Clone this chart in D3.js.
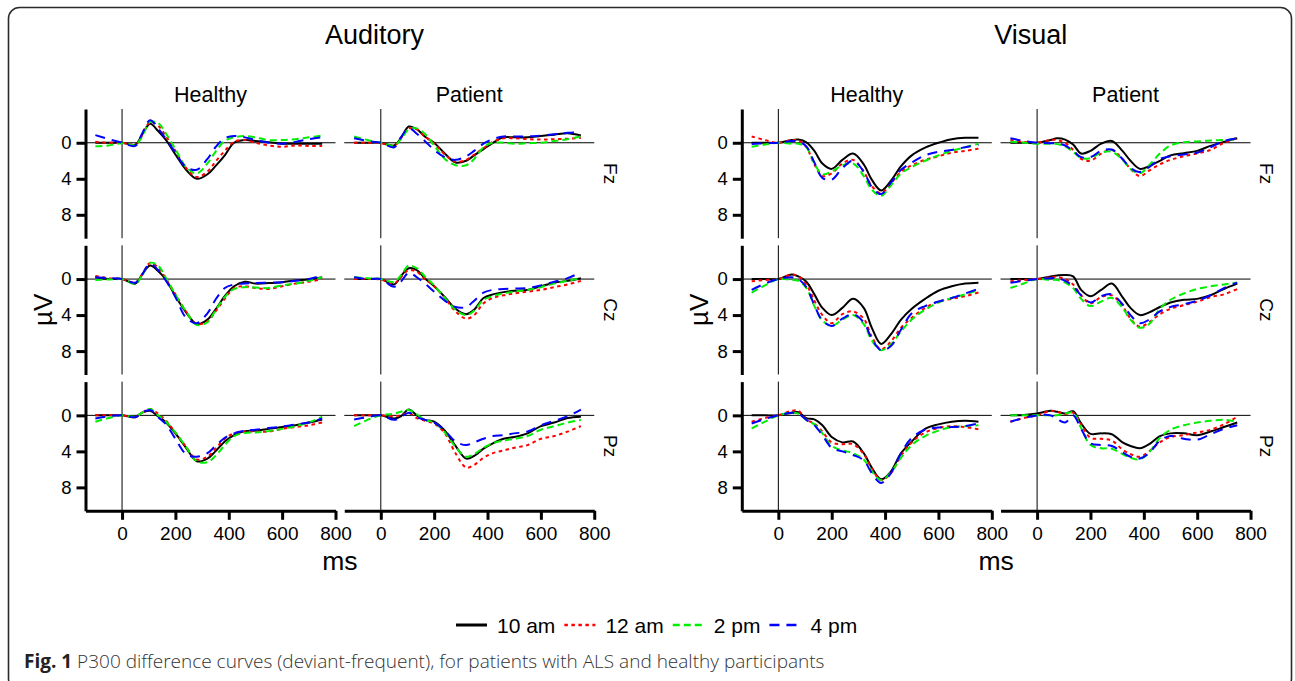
<!DOCTYPE html>
<html>
<head>
<meta charset="utf-8">
<script src="https://cdn.jsdelivr.net/npm/d3@7"></script>
<style>
  body { margin: 0; background: #fff; }
  svg { display: block; }
</style>
</head>
<body>
<svg id="chart" width="1295" height="681"></svg>
<script>

// time points (ms) shared by every curve
var timesMs = [-100, -50, 0, 50, 75, 105, 135, 165, 200, 240, 280, 320, 350, 385, 420, 460, 500, 550, 600, 650, 700, 750];

var seriesNames = ["10 am", "12 am", "2 pm", "4 pm"];
var modalities = ["Auditory", "Visual"];
var groups = ["Healthy", "Patient"];
var electrodes = ["Fz", "Cz", "Pz"];
var xTicks = [0, 200, 400, 600, 800];
var yTicks = [0, 4, 8];

// µV values, one row per series (10 am, 12 am, 2 pm, 4 pm)
var audHealthyFz = [
  [0, 0, 0, 0.2, -0.9, -2.1, -1.3, -0.3, 1.3, 3.0, 4.0, 3.5, 2.6, 1.4, 0.0, -0.3, -0.2, -0.05, 0.1, 0.1, 0.1, 0.1],
  [-0.1, 0, 0, 0.2, -0.8, -2.3, -1.9, -0.7, 0.9, 2.8, 3.8, 3.2, 2.1, 0.9, -0.1, -0.3, 0.0, 0.3, 0.45, 0.3, 0.35, 0.35],
  [0.4, 0.3, 0.05, 0.25, -0.7, -2.3, -2.2, -1.0, 0.7, 2.7, 3.4, 2.3, 1.0, -0.2, -0.6, -0.75, -0.6, -0.3, -0.3, -0.4, -0.6, -0.8],
  [-0.85, -0.4, 0, 0.35, -1.0, -2.5, -1.6, -0.4, 1.1, 2.7, 3.0, 1.8, 0.5, -0.5, -0.75, -0.6, -0.3, 0.0, 0.1, -0.1, -0.4, -0.6]
];
var audPatientFz = [
  [0, 0, 0, 0.3, -0.5, -1.8, -1.5, -0.7, 0.0, 1.2, 2.2, 2.0, 1.4, 0.7, 0.0, -0.6, -0.6, -0.6, -0.75, -0.9, -1.05, -0.8],
  [0, 0, 0.05, 0.3, -0.5, -1.6, -1.5, -0.7, 0.1, 1.3, 2.1, 1.9, 1.3, 0.6, -0.1, -0.5, -0.5, -0.4, -0.35, -0.4, -0.45, -0.55],
  [-0.7, -0.3, 0, 0.3, -0.4, -1.5, -1.6, -1.0, 0.3, 1.8, 2.5, 2.5, 1.8, 0.5, 0.0, 0.0, 0.1, 0.05, 0.0, -0.2, -0.4, -0.7],
  [-0.5, -0.2, 0, 0.5, -0.6, -1.6, -1.0, -0.2, 0.8, 1.6, 1.9, 1.5, 0.9, 0.1, -0.4, -0.7, -0.7, -0.7, -0.8, -0.95, -1.1, -1.2]
];
var audHealthyCz = [
  [-0.2, 0, 0, 0.5, -0.5, -1.5, -0.9, 0.1, 1.9, 3.7, 5.0, 4.5, 3.4, 1.9, 0.8, 0.3, 0.5, 0.45, 0.35, 0.15, 0.05, -0.2],
  [-0.35, -0.1, 0, 0.4, -0.5, -1.8, -1.3, 0.0, 1.7, 3.6, 5.0, 4.7, 3.6, 2.2, 1.0, 0.8, 1.0, 1.1, 0.8, 0.5, 0.3, 0.0],
  [0.1, 0.05, 0, 0.55, -0.4, -1.8, -1.5, -0.1, 1.7, 3.6, 5.1, 4.8, 3.5, 2.0, 1.1, 0.9, 0.95, 1.0, 0.7, 0.5, 0.2, -0.2],
  [-0.2, -0.1, 0, 0.4, -0.5, -1.7, -1.0, 0.2, 2.0, 4.3, 4.9, 3.8, 2.3, 1.0, 0.6, 0.5, 0.45, 0.4, 0.35, 0.2, 0.0, -0.4]
];
var audPatientCz = [
  [0, 0, 0, 0.6, -0.3, -1.2, -1.0, -0.1, 0.8, 2.0, 3.3, 3.9, 3.4, 2.1, 1.7, 1.45, 1.3, 1.2, 0.8, 0.4, 0.2, -0.1],
  [0, 0, 0.05, 0.5, -0.2, -1.0, -0.8, 0.0, 0.8, 2.1, 3.6, 4.4, 4.0, 2.7, 2.1, 1.8, 1.6, 1.4, 1.2, 0.9, 0.6, 0.2],
  [-0.2, -0.1, 0, 0.3, -0.4, -1.5, -1.2, -0.3, 0.7, 2.1, 3.4, 4.0, 3.5, 2.3, 1.9, 1.6, 1.4, 1.2, 0.9, 0.5, 0.2, -0.1],
  [-0.2, 0, 0, 0.85, 0.3, -0.7, -0.2, 0.5, 1.4, 2.4, 3.1, 3.1, 2.4, 1.5, 1.2, 1.1, 1.05, 1.0, 0.7, 0.3, -0.1, -0.75]
];
var audHealthyPz = [
  [0, 0, 0, 0.2, -0.3, -0.5, 0.1, 0.8, 2.0, 3.6, 5.1, 4.8, 4.0, 2.9, 2.2, 1.75, 1.7, 1.5, 1.3, 1.1, 0.8, 0.45],
  [0, 0, 0, 0.2, -0.3, -0.7, -0.2, 0.6, 1.9, 3.5, 4.9, 4.6, 3.7, 2.6, 2.0, 1.8, 1.8, 1.8, 1.5, 1.3, 1.1, 0.8],
  [0.7, 0.3, 0, 0.15, -0.3, -0.7, 0.0, 0.7, 1.9, 3.5, 5.1, 5.2, 4.5, 3.3, 2.3, 1.95, 1.9, 1.75, 1.5, 1.2, 0.8, 0.15],
  [0.35, 0.1, 0, 0.2, -0.3, -0.6, 0.2, 1.0, 2.6, 4.3, 4.6, 4.2, 3.4, 2.5, 2.0, 1.7, 1.6, 1.4, 1.25, 1.0, 0.8, 0.35]
];
var audPatientPz = [
  [0, 0, 0, 0.35, 0.1, -0.65, 0.0, 0.5, 0.7, 1.7, 3.4, 4.8, 4.5, 3.7, 3.1, 2.6, 2.4, 2.0, 1.2, 0.8, 0.3, 0.15],
  [0, 0, 0, 0.1, 0.0, -0.25, 0.3, 0.6, 0.9, 2.0, 4.2, 5.8, 5.5, 4.7, 4.2, 3.9, 3.6, 3.3, 2.6, 2.3, 1.8, 1.2],
  [1.2, 0.5, 0, -0.2, -0.4, -0.6, -0.1, 0.5, 0.8, 1.9, 3.5, 4.6, 4.3, 3.6, 3.1, 2.8, 2.6, 2.3, 1.6, 1.2, 0.8, 0.5],
  [0.45, 0.2, 0, 0.5, 0.2, -0.3, 0.2, 0.5, 0.8, 1.7, 2.9, 3.3, 3.0, 2.6, 2.3, 2.2, 2.0, 1.8, 1.1, 0.6, 0.1, -0.65]
];
var visHealthyFz = [
  [0, 0, 0, -0.3, -0.35, -0.05, 0.9, 2.3, 2.9, 1.9, 1.2, 2.4, 4.1, 5.3, 4.3, 2.6, 1.4, 0.55, 0.0, -0.4, -0.55, -0.55],
  [-0.7, -0.3, 0, -0.3, -0.25, 0.5, 2.4, 3.7, 3.4, 2.3, 1.9, 3.2, 4.8, 5.6, 4.6, 3.2, 2.5, 1.9, 1.5, 1.1, 0.9, 0.65],
  [0.45, 0.2, 0, 0.1, 0.1, 0.5, 2.3, 3.5, 3.2, 2.5, 2.3, 3.7, 5.2, 5.9, 4.8, 3.4, 2.7, 2.0, 1.4, 0.9, 0.5, 0.1],
  [0.15, 0.05, 0, -0.2, -0.15, 0.4, 2.2, 3.9, 4.1, 2.8, 2.0, 3.2, 4.9, 5.7, 4.5, 3.0, 2.2, 1.4, 1.0, 0.8, 0.5, 0.25]
];
var visPatientFz = [
  [0, 0, 0, -0.3, -0.5, -0.35, 0.2, 1.2, 0.9, 0.1, -0.2, 0.9, 2.0, 2.9, 2.6, 2.0, 1.4, 1.15, 0.9, 0.35, -0.1, -0.5],
  [-0.3, -0.1, 0, -0.3, -0.3, 0.0, 0.8, 1.8, 2.0, 1.2, 0.8, 1.8, 2.9, 3.7, 3.1, 2.4, 1.9, 1.5, 1.2, 0.8, 0.0, -0.5],
  [-0.1, 0.0, 0.1, 0.1, 0.15, 0.4, 1.0, 1.7, 1.7, 1.1, 1.0, 1.9, 2.9, 3.4, 2.5, 1.2, 0.3, -0.05, -0.15, -0.25, -0.3, -0.4],
  [-0.5, -0.2, 0, 0.05, 0.1, 0.3, 0.9, 1.6, 1.6, 0.9, 0.75, 1.8, 2.8, 3.25, 2.7, 1.8, 1.5, 1.3, 1.1, 0.5, -0.2, -0.5]
];
var visHealthyCz = [
  [0, 0, 0, -0.5, -0.3, 0.3, 1.7, 3.2, 4.0, 3.2, 2.2, 3.2, 5.4, 7.2, 6.2, 4.5, 3.3, 2.2, 1.3, 0.8, 0.5, 0.4],
  [0.25, 0.1, 0, -0.5, -0.3, 0.6, 2.4, 4.0, 4.9, 3.9, 3.6, 4.4, 6.4, 7.8, 7.0, 5.4, 4.3, 3.2, 2.5, 2.2, 1.9, 1.5],
  [1.5, 0.7, 0, 0.1, 0.2, 1.0, 3.0, 4.6, 5.2, 4.5, 4.0, 5.0, 6.8, 7.9, 7.3, 5.8, 4.5, 3.4, 2.6, 2.1, 1.7, 1.2],
  [1.2, 0.5, 0, -0.2, 0.0, 0.9, 2.9, 4.6, 5.2, 4.4, 3.9, 4.8, 6.6, 7.9, 7.5, 5.6, 3.8, 3.0, 2.5, 2.1, 1.6, 1.1]
];
var visPatientCz = [
  [0, 0, 0, -0.3, -0.4, -0.45, -0.3, 1.2, 1.9, 1.2, 0.5, 2.0, 3.2, 4.0, 3.7, 3.1, 2.6, 2.3, 2.2, 1.8, 1.1, 0.5],
  [0.25, 0.1, 0, -0.2, -0.25, 0.0, 0.6, 1.8, 2.7, 2.0, 1.8, 3.0, 4.4, 5.3, 4.8, 3.9, 3.3, 2.9, 2.5, 2.0, 1.7, 1.1],
  [1.0, 0.5, 0, 0.1, 0.1, 0.4, 1.0, 2.2, 3.0, 2.5, 2.1, 3.2, 4.5, 5.4, 5.0, 3.3, 2.3, 1.6, 1.1, 0.8, 0.6, 0.4],
  [0.4, 0.2, 0, -0.1, -0.1, 0.2, 0.8, 1.8, 2.6, 1.9, 1.7, 2.8, 4.0, 4.9, 4.5, 3.6, 3.1, 2.8, 2.4, 1.8, 1.0, 0.4]
];
var visHealthyPz = [
  [0, 0, 0, -0.3, -0.35, 0.3, 0.45, 1.1, 2.4, 3.0, 2.9, 4.2, 5.8, 7.1, 6.3, 4.2, 2.9, 1.5, 1.0, 0.7, 0.6, 0.7],
  [0.7, 0.3, 0, -0.5, -0.5, 0.5, 0.9, 1.8, 3.0, 3.2, 3.2, 4.3, 5.9, 7.2, 6.5, 4.5, 3.0, 1.9, 1.4, 1.2, 1.3, 1.55],
  [1.45, 0.7, 0, -0.3, -0.2, 0.5, 1.0, 2.0, 3.4, 3.9, 4.2, 4.9, 6.2, 7.2, 6.4, 4.7, 3.3, 2.3, 1.7, 1.3, 1.2, 1.1],
  [0.9, 0.4, 0, -0.3, -0.2, 0.5, 1.1, 2.2, 3.6, 4.0, 4.4, 5.0, 6.4, 7.5, 6.5, 4.2, 2.5, 1.6, 1.35, 1.3, 1.2, 0.9]
];
var visPatientPz = [
  [0, -0.05, -0.2, -0.5, -0.4, -0.2, -0.45, 0.9, 2.05, 2.0, 2.1, 3.0, 3.4, 3.65, 3.2, 2.3, 2.0, 2.0, 2.2, 1.8, 1.3, 0.8],
  [0.7, 0.3, 0, -0.5, -0.4, -0.15, -0.3, 1.0, 2.5, 2.6, 2.8, 3.8, 4.3, 4.6, 4.0, 3.0, 2.4, 2.2, 1.9, 1.6, 1.0, 0.15],
  [0, 0, 0, 0.0, 0.0, -0.2, -0.3, 1.4, 3.3, 3.65, 3.7, 4.3, 4.7, 4.9, 4.1, 2.5, 1.6, 1.1, 0.8, 0.6, 0.5, 0.7],
  [0.7, 0.3, 0, 0.0, 0.4, 0.8, 0.0, 1.5, 3.1, 3.3, 3.4, 4.1, 4.6, 4.8, 4.2, 2.8, 2.3, 2.6, 2.7, 2.1, 1.5, 1.1]
];

// lookup table: modality -> group -> electrode rows
var panels = {
  Auditory: { Healthy: [audHealthyFz, audHealthyCz, audHealthyPz], Patient: [audPatientFz, audPatientCz, audPatientPz] },
  Visual:   { Healthy: [visHealthyFz, visHealthyCz, visHealthyPz], Patient: [visPatientFz, visPatientCz, visPatientPz] }
};

var colors = ["#000000", "#ff0000", "#00ee00", "#0000ff"];
var dashes = [null, "3.5,3.5", "7,4", "10,7"];

var font = "'Liberation Sans', Arial, Helvetica, sans-serif";

var svg = d3.select("#chart");
svg.append("rect").attr("width", 1295).attr("height", 681).attr("fill", "#fff");

// outer frame
svg.append("rect")
  .attr("x", 8.5).attr("y", 7.5)
  .attr("width", 1283).attr("height", 682)
  .attr("rx", 11)
  .attr("fill", "none")
  .attr("stroke", "#2b2b2b")
  .attr("stroke-width", 1.6);

var panelW = 250, panelH = 129.2;
var groupLeft = [85.5, 741.8];
var panelStep = 258.75;
var rowTop0 = 109, rowStep = 136.3;

var x = d3.scaleLinear().domain([-137, 800]).range([0, panelW]);
var y = d3.scaleLinear().domain([-3.75, 10.6]).range([0, panelH]);

var line = d3.line()
  .x(function (d, i) { return x(timesMs[i]); })
  .y(function (d) { return y(d); })
  .curve(d3.curveCatmullRom.alpha(0.5));

modalities.forEach(function (mod, mi) {
  var gl = groupLeft[mi];

  // modality title
  svg.append("text")
    .attr("x", gl + 289).attr("y", 44)
    .attr("text-anchor", "middle")
    .attr("font-family", font).attr("font-size", 27)
    .text(mod);

  // µV label
  svg.append("text")
    .attr("transform", "translate(" + (gl - 43) + "," + (rowTop0 + rowStep + panelH / 2) + ") rotate(-90)")
    .attr("text-anchor", "middle")
    .attr("dominant-baseline", "central")
    .attr("font-family", font).attr("font-size", 26)
    .text("µV");

  // ms label
  svg.append("text")
    .attr("x", gl + (panelStep + panelW) / 2).attr("y", 570)
    .attr("text-anchor", "middle")
    .attr("font-family", font).attr("font-size", 26.5)
    .text("ms");

  groups.forEach(function (grp, gi) {
    var pl = gl + gi * panelStep;

    svg.append("text")
      .attr("x", pl + panelW / 2).attr("y", 102)
      .attr("text-anchor", "middle")
      .attr("font-family", font).attr("font-size", 21.5)
      .text(grp);

    electrodes.forEach(function (el, ri) {
      var pt = rowTop0 + ri * rowStep;
      var g = svg.append("g").attr("transform", "translate(" + pl + "," + pt + ")");

      // reference lines
      g.append("line")
        .attr("x1", 0).attr("x2", panelW)
        .attr("y1", y(0)).attr("y2", y(0))
        .attr("stroke", "#000").attr("stroke-width", 1);
      g.append("line")
        .attr("x1", x(0)).attr("x2", x(0))
        .attr("y1", 0).attr("y2", panelH)
        .attr("stroke", "#000").attr("stroke-width", 1);

      // curves
      panels[mod][grp][ri].forEach(function (vals, si) {
        g.append("path")
          .datum(vals)
          .attr("d", line)
          .attr("fill", "none")
          .attr("stroke", colors[si])
          .attr("stroke-width", 2)
          .attr("stroke-dasharray", dashes[si]);
      });

      // y axis on the first column
      if (gi === 0) {
        var ya = g.append("g")
          .call(d3.axisLeft(y).tickValues(yTicks).tickSize(9).tickSizeOuter(0).tickPadding(5));
        ya.select(".domain").attr("stroke-width", 3);
        ya.selectAll(".tick line").attr("stroke-width", 3);
        ya.selectAll(".tick text").attr("font-family", font).attr("font-size", 18.5).attr("fill", "#000");
      }

      // x axis on the bottom row
      if (ri === electrodes.length - 1) {
        var xa = g.append("g")
          .attr("transform", "translate(0," + panelH + ")")
          .call(d3.axisBottom(x).tickValues(xTicks).tickSize(9).tickSizeOuter(0).tickPadding(7));
        xa.select(".domain").attr("stroke-width", 3);
        xa.selectAll(".tick line").attr("stroke-width", 3);
        xa.selectAll(".tick text").attr("font-family", font).attr("font-size", 19).attr("fill", "#000");
      }

      // electrode name on the right
      if (gi === groups.length - 1) {
        svg.append("text")
          .attr("transform", "translate(" + (pl + 266) + "," + (pt + panelH / 2) + ") rotate(90)")
          .attr("text-anchor", "middle")
          .attr("dominant-baseline", "central")
          .attr("font-family", font).attr("font-size", 19)
          .text(el);
      }
    });
  });
});

// legend
var legend = svg.append("g").attr("transform", "translate(456,625)");
var lx = 0;
seriesNames.forEach(function (name, si) {
  legend.append("line")
    .attr("x1", lx).attr("x2", lx + 31)
    .attr("y1", 0).attr("y2", 0)
    .attr("stroke", colors[si])
    .attr("stroke-width", si === 0 ? 3 : 2.5)
    .attr("stroke-dasharray", dashes[si]);
  var t = legend.append("text")
    .attr("x", lx + 41).attr("y", 0)
    .attr("dominant-baseline", "central")
    .attr("font-family", font).attr("font-size", 21)
    .text(name);
  lx += 41 + t.node().getComputedTextLength() + 9;
});

// caption
var cap = svg.append("text")
  .attr("x", 24).attr("y", 668)
  .attr("font-family", "'Open Sans', 'Noto Sans', sans-serif")
  .attr("font-size", 19)
  .attr("fill", "#333");
cap.append("tspan").attr("font-weight", "bold").attr("fill", "#222").text("Fig. 1");
cap.append("tspan").attr("font-weight", 300).text(" P300 difference curves (deviant-frequent), for patients with ALS and healthy participants");

</script>
</body>
</html>
